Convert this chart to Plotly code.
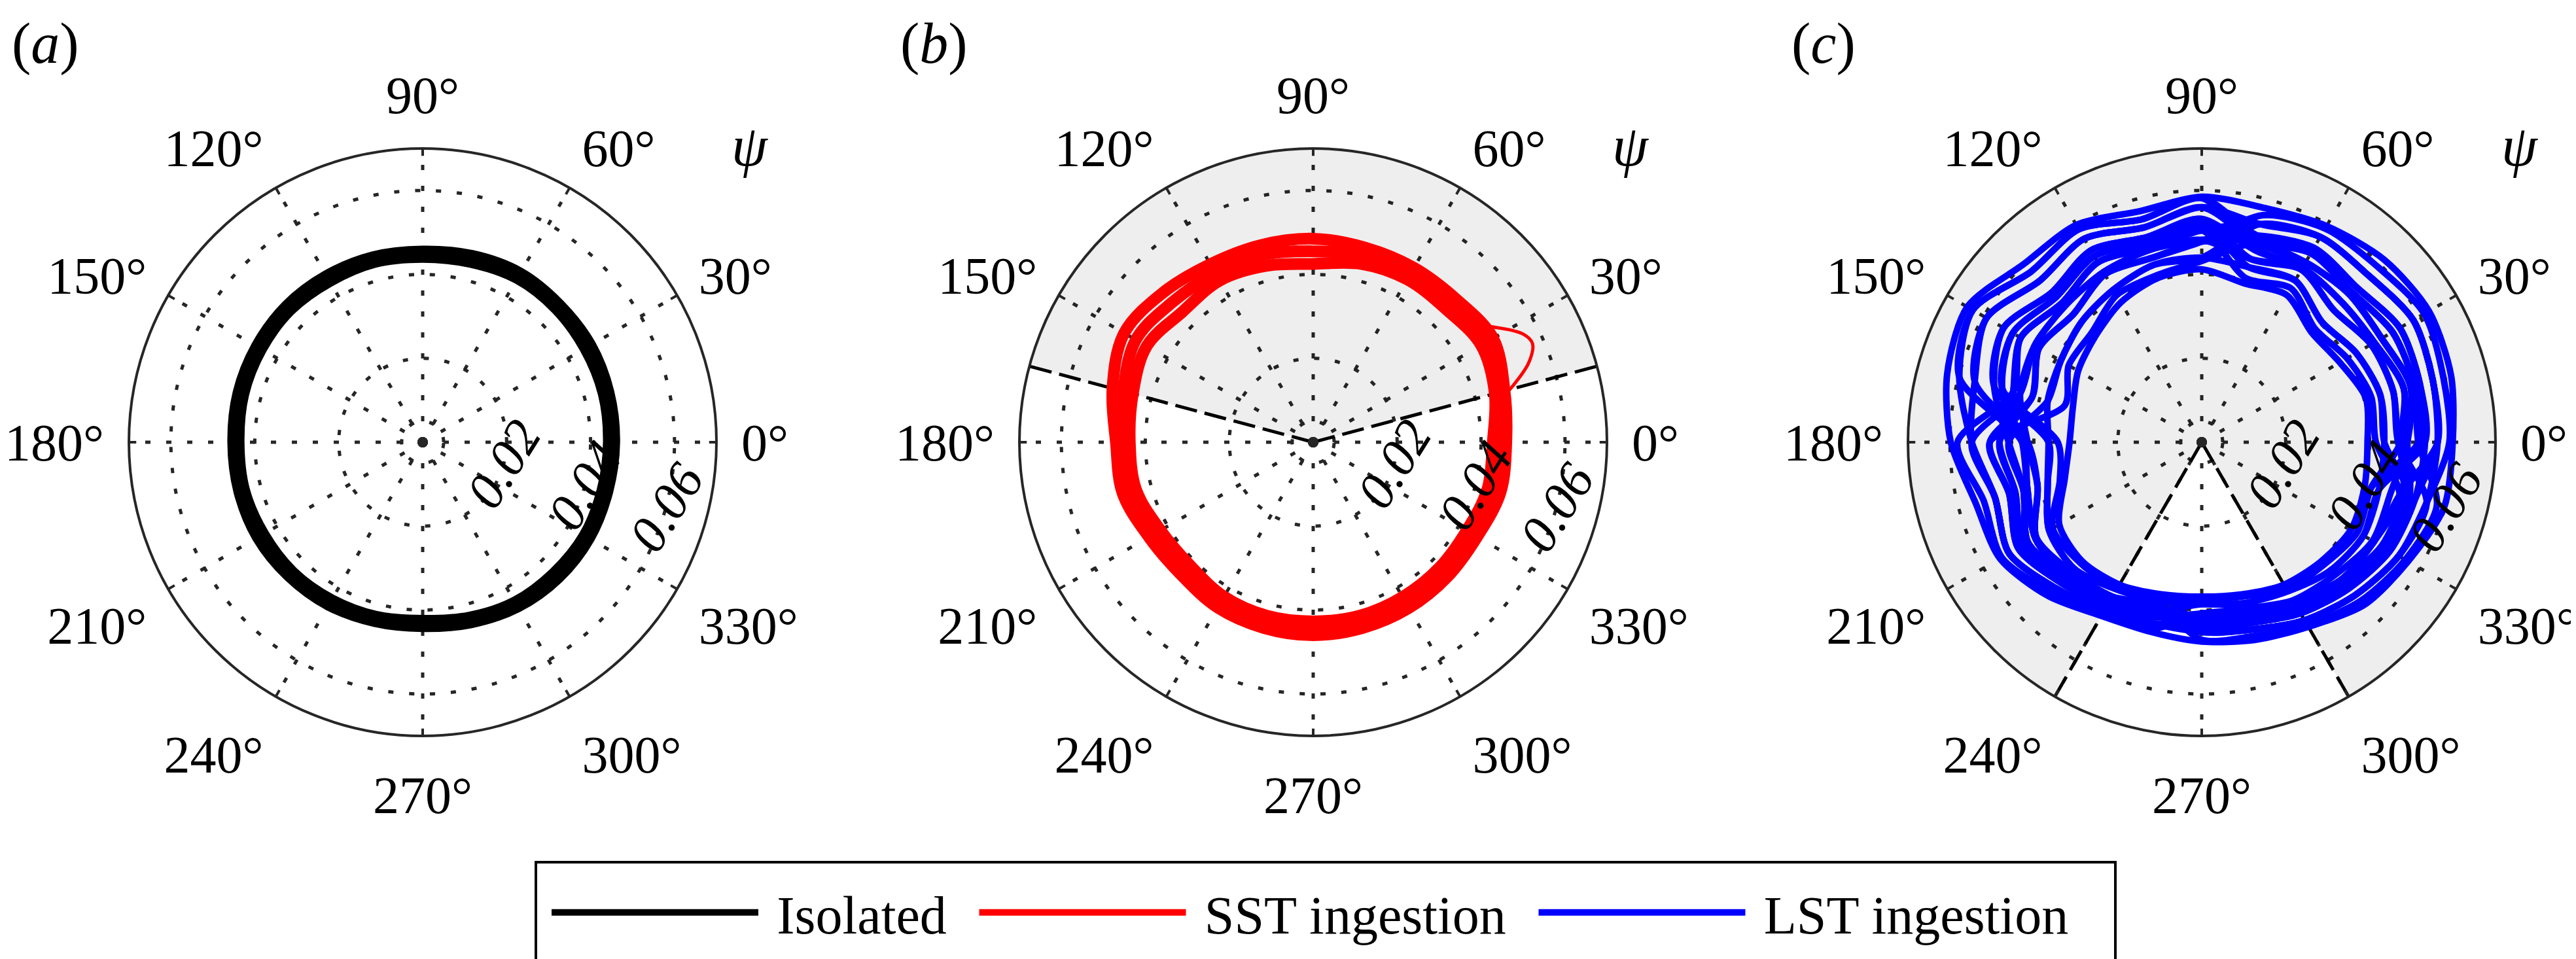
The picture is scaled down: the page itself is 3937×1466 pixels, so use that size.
import math
import plotly.graph_objects as go

W, H = 3937, 1466

# phase angle samples (deg) used by every loop below
theta = list(range(0, 360, 15))

# panel (a) isolated: two edges of the thick black band
isolated_loops = [
    [0.0442, 0.0445, 0.0446, 0.0449, 0.0450, 0.0443, 0.0440, 0.0443, 0.0442, 0.0445, 0.0443, 0.0441,
     0.0437, 0.0439, 0.0437, 0.0437, 0.0433, 0.0429, 0.0424, 0.0431, 0.0439, 0.0441, 0.0444, 0.0442],
    [0.0458, 0.0460, 0.0463, 0.0463, 0.0466, 0.0461, 0.0456, 0.0458, 0.0459, 0.0460, 0.0458, 0.0456,
     0.0453, 0.0454, 0.0455, 0.0452, 0.0449, 0.0443, 0.0440, 0.0446, 0.0454, 0.0458, 0.0459, 0.0457],
]

# panel (b) SST ingestion
sst_loops = [
    [0.0428, 0.0448, 0.0462, 0.0448, 0.0448, 0.0440, 0.0425, 0.0435, 0.0445, 0.0440, 0.0458, 0.0445,
     0.0437, 0.0437, 0.0420, 0.0415, 0.0425, 0.0428, 0.0427, 0.0428, 0.0426, 0.0424, 0.0422, 0.0430],
    [0.0444, 0.0458, 0.0480, 0.0465, 0.0465, 0.0460, 0.0455, 0.0462, 0.0466, 0.0473, 0.0488, 0.0468,
     0.0453, 0.0454, 0.0436, 0.0431, 0.0440, 0.0443, 0.0443, 0.0443, 0.0441, 0.0438, 0.0436, 0.0446],
    [0.0460, 0.0472, 0.0495, 0.0482, 0.0480, 0.0480, 0.0485, 0.0486, 0.0490, 0.0505, 0.0520, 0.0495,
     0.0470, 0.0470, 0.0452, 0.0446, 0.0455, 0.0458, 0.0460, 0.0458, 0.0456, 0.0453, 0.0451, 0.0462],
]
sst_excursion_theta = [33.4, 27.2, 24.2, 20.2, 15.4, 14.2]
sst_excursion_r = [0.0501, 0.0563, 0.0573, 0.0547, 0.0490, 0.0474]

# panel (c) LST ingestion: many wandering loops
lst_loops = [
    [0.0395, 0.0405, 0.0380, 0.0370, 0.0405, 0.0392, 0.0412, 0.0405, 0.0385, 0.0358, 0.0340, 0.0318,
     0.0315, 0.0338, 0.0392, 0.0402, 0.0392, 0.0375, 0.0368, 0.0375, 0.0392, 0.0402, 0.0412, 0.0402],
    [0.0435, 0.0440, 0.0425, 0.0405, 0.0445, 0.0432, 0.0518, 0.0494, 0.0512, 0.0490, 0.0520, 0.0492,
     0.0343, 0.0350, 0.0410, 0.0408, 0.0402, 0.0378, 0.0433, 0.0437, 0.0463, 0.0484, 0.0506, 0.0512],
    [0.0490, 0.0515, 0.0495, 0.0498, 0.0495, 0.0490, 0.0432, 0.0412, 0.0405, 0.0370, 0.0366, 0.0338,
     0.0505, 0.0475, 0.0505, 0.0474, 0.0452, 0.0432, 0.0408, 0.0410, 0.0435, 0.0448, 0.0470, 0.0466],
    [0.0532, 0.0538, 0.0545, 0.0522, 0.0535, 0.0510, 0.0582, 0.0550, 0.0586, 0.0575, 0.0630, 0.0598,
     0.0428, 0.0430, 0.0458, 0.0453, 0.0426, 0.0414, 0.0386, 0.0397, 0.0410, 0.0433, 0.0445, 0.0437],
    [0.0468, 0.0472, 0.0466, 0.0445, 0.0475, 0.0452, 0.0482, 0.0475, 0.0468, 0.0460, 0.0460, 0.0448,
     0.0548, 0.0510, 0.0530, 0.0492, 0.0465, 0.0448, 0.0433, 0.0437, 0.0463, 0.0484, 0.0506, 0.0512],
    [0.0562, 0.0570, 0.0582, 0.0562, 0.0565, 0.0538, 0.0440, 0.0438, 0.0420, 0.0405, 0.0388, 0.0380,
     0.0460, 0.0440, 0.0478, 0.0456, 0.0438, 0.0418, 0.0440, 0.0446, 0.0471, 0.0494, 0.0518, 0.0526],
    [0.0490, 0.0515, 0.0495, 0.0498, 0.0495, 0.0490, 0.0505, 0.0480, 0.0495, 0.0470, 0.0498, 0.0465,
     0.0460, 0.0440, 0.0478, 0.0456, 0.0438, 0.0418, 0.0424, 0.0428, 0.0453, 0.0470, 0.0495, 0.0497],
    [0.0516, 0.0524, 0.0525, 0.0506, 0.0520, 0.0496, 0.0560, 0.0530, 0.0560, 0.0545, 0.0592, 0.0560,
     0.0415, 0.0405, 0.0455, 0.0438, 0.0425, 0.0402, 0.0471, 0.0478, 0.0503, 0.0535, 0.0560, 0.0580],
    [0.0415, 0.0418, 0.0400, 0.0382, 0.0424, 0.0405, 0.0505, 0.0480, 0.0495, 0.0470, 0.0498, 0.0465,
     0.0582, 0.0538, 0.0550, 0.0506, 0.0476, 0.0460, 0.0410, 0.0422, 0.0437, 0.0466, 0.0474, 0.0488],
    [0.0590, 0.0596, 0.0612, 0.0592, 0.0588, 0.0560, 0.0478, 0.0455, 0.0462, 0.0432, 0.0448, 0.0418,
     0.0482, 0.0460, 0.0492, 0.0466, 0.0445, 0.0426, 0.0452, 0.0462, 0.0490, 0.0516, 0.0542, 0.0555],
    [0.0474, 0.0498, 0.0475, 0.0472, 0.0480, 0.0476, 0.0532, 0.0506, 0.0528, 0.0505, 0.0545, 0.0512,
     0.0365, 0.0380, 0.0420, 0.0428, 0.0405, 0.0392, 0.0378, 0.0380, 0.0405, 0.0412, 0.0428, 0.0418],
    [0.0562, 0.0570, 0.0582, 0.0562, 0.0565, 0.0538, 0.0560, 0.0530, 0.0560, 0.0545, 0.0592, 0.0560,
     0.0548, 0.0510, 0.0530, 0.0492, 0.0465, 0.0448, 0.0452, 0.0462, 0.0490, 0.0516, 0.0542, 0.0555],
    [0.0435, 0.0440, 0.0425, 0.0405, 0.0445, 0.0432, 0.0440, 0.0438, 0.0420, 0.0405, 0.0388, 0.0380,
     0.0365, 0.0380, 0.0420, 0.0428, 0.0405, 0.0392, 0.0386, 0.0397, 0.0410, 0.0433, 0.0445, 0.0437],
    [0.0598, 0.0615, 0.0625, 0.0615, 0.0595, 0.0578, 0.0585, 0.0570, 0.0598, 0.0600, 0.0645, 0.0628,
     0.0598, 0.0558, 0.0555, 0.0518, 0.0478, 0.0468, 0.0475, 0.0488, 0.0508, 0.0548, 0.0568, 0.0598],
    [0.0516, 0.0524, 0.0525, 0.0506, 0.0520, 0.0496, 0.0478, 0.0455, 0.0462, 0.0432, 0.0448, 0.0418,
     0.0505, 0.0475, 0.0505, 0.0474, 0.0452, 0.0432, 0.0378, 0.0380, 0.0405, 0.0412, 0.0428, 0.0418],
    [0.0468, 0.0472, 0.0466, 0.0445, 0.0475, 0.0452, 0.0532, 0.0506, 0.0528, 0.0505, 0.0545, 0.0512,
     0.0460, 0.0440, 0.0478, 0.0456, 0.0438, 0.0418, 0.0452, 0.0462, 0.0490, 0.0516, 0.0542, 0.0555],
    [0.0562, 0.0570, 0.0582, 0.0562, 0.0565, 0.0538, 0.0505, 0.0480, 0.0495, 0.0470, 0.0498, 0.0465,
     0.0482, 0.0460, 0.0492, 0.0466, 0.0445, 0.0426, 0.0410, 0.0422, 0.0437, 0.0466, 0.0474, 0.0488],
    [0.0474, 0.0498, 0.0475, 0.0472, 0.0480, 0.0476, 0.0582, 0.0550, 0.0586, 0.0575, 0.0630, 0.0598,
     0.0548, 0.0510, 0.0530, 0.0492, 0.0465, 0.0448, 0.0424, 0.0428, 0.0453, 0.0470, 0.0495, 0.0497],
    [0.0532, 0.0538, 0.0545, 0.0522, 0.0535, 0.0510, 0.0482, 0.0475, 0.0468, 0.0460, 0.0460, 0.0448,
     0.0415, 0.0405, 0.0455, 0.0438, 0.0425, 0.0402, 0.0440, 0.0446, 0.0471, 0.0494, 0.0518, 0.0526],
    [0.0490, 0.0515, 0.0495, 0.0498, 0.0495, 0.0490, 0.0518, 0.0494, 0.0512, 0.0490, 0.0520, 0.0492,
     0.0428, 0.0430, 0.0458, 0.0453, 0.0426, 0.0414, 0.0433, 0.0437, 0.0463, 0.0484, 0.0506, 0.0512],
]

angle_ticks = list(range(0, 360, 30))
angle_labels = [f"{a}°" for a in angle_ticks]
r_ticks = [0.005, 0.02, 0.04, 0.06]
r_labels = ["0.02", "0.04", "0.06"]
r_label_angle = -15
r_max = 0.07

# shaded sectors (centre, width) and their dashed edges, in degrees
sst_sector = (90, 150)
sst_edges = [165, 15]
lst_sector = (90, 300)
lst_edges = [240, 300]

panel_names = ["a", "b", "c"]
legend_names = ["Isolated", "SST ingestion", "LST ingestion"]
colors = ["black", "red", "blue"]

FONT = "Liberation Serif"
centers_x = [638, 1999, 3357]
cy, R = 668, 449

fig = go.Figure()


def closed(vals, first):
    return list(vals) + [first]


def add_loops(loops, color, width, sub, smooth=1.0):
    for loop in loops:
        fig.add_trace(go.Scatterpolar(
            r=closed(loop, loop[0]), theta=closed(theta, 360),
            mode="lines", line=dict(color=color, width=width, shape="spline", smoothing=smooth),
            showlegend=False, hoverinfo="skip", subplot=sub))


def add_sector(sector, edges, sub):
    fig.add_trace(go.Barpolar(
        r=[r_max], theta=[sector[0]], width=[sector[1]], base=0,
        marker=dict(color="rgba(0,0,0,0.068)", line=dict(width=0)),
        showlegend=False, hoverinfo="skip", subplot=sub))
    for e in edges:
        fig.add_trace(go.Scatterpolar(
            r=[0, r_max], theta=[e, e], mode="lines",
            line=dict(color="black", width=5, dash="34px,12px"),
            showlegend=False, hoverinfo="skip", subplot=sub))


add_loops(isolated_loops, "black", 16, "polar")

add_sector(sst_sector, sst_edges, "polar2")
add_loops(sst_loops, "red", 18, "polar2")
fig.add_trace(go.Scatterpolar(
    r=sst_excursion_r, theta=sst_excursion_theta, mode="lines",
    line=dict(color="red", width=5, shape="spline"),
    showlegend=False, hoverinfo="skip", subplot="polar2"))

add_sector(lst_sector, lst_edges, "polar3")
add_loops(lst_loops, "blue", 10, "polar3", smooth=0.8)

subs = ["polar", "polar2", "polar3"]
# short inward tick marks on the rim, and the centre dot
tick_r, tick_t = [], []
for a in angle_ticks:
    tick_r += [r_max * 0.975, r_max, None]
    tick_t += [a, a, None]
for sub in subs:
    fig.add_trace(go.Scatterpolar(
        r=tick_r, theta=tick_t, mode="lines", line=dict(color="#262626", width=4),
        showlegend=False, hoverinfo="skip", subplot=sub))
    fig.add_trace(go.Scatterpolar(
        r=[0], theta=[0], mode="markers", marker=dict(color="#262626", size=16),
        showlegend=False, hoverinfo="skip", subplot=sub))

# legend entries
for name, c in zip(legend_names, colors):
    fig.add_trace(go.Scatterpolar(
        r=[None], theta=[None], mode="lines",
        name="\u2009\u200a" + name + "\u2009\u2009\u200a",
        line=dict(color=c, width=13), subplot="polar"))

polar_common = dict(
    bgcolor="rgba(0,0,0,0)",
    radialaxis=dict(
        range=[0, r_max], tickmode="array", tickvals=r_ticks,
        showticklabels=False, showline=False, ticks="",
        gridcolor="#262626", gridwidth=5, griddash="8px,24px",
    ),
    angularaxis=dict(
        tickmode="array", tickvals=angle_ticks, ticktext=angle_labels,
        direction="counterclockwise", rotation=0,
        showline=True, linecolor="#262626", linewidth=4,
        ticks="outside", ticklen=20, tickcolor="rgba(0,0,0,0)",
        gridcolor="#262626", gridwidth=5, griddash="8px,24px",
        tickfont=dict(family=FONT, size=80, color="black"),
    ),
)

layout_polars = {}
for i, sub in enumerate(subs):
    cx = centers_x[i]
    dom = dict(x=[(cx - R) / W, (cx + R) / W], y=[(H - cy - R) / H, (H - cy + R) / H])
    layout_polars[sub] = dict(domain=dom, **polar_common)

annotations = []
for i, p in enumerate(panel_names):
    cx = centers_x[i]
    annotations.append(dict(
        x=[8, 1366, 2728][i] / W, y=1 - 59 / H, xref="paper", yref="paper",
        xanchor="left", yanchor="middle", text=f"(<i>{p}</i>)", showarrow=False,
        font=dict(family=FONT, size=88, color="black")))
    annotations.append(dict(
        x=[1138, 2484, 3843][i] / W, y=1 - 215 / H, xref="paper", yref="paper",
        xanchor="center", yanchor="middle", text="<i>ψ</i>", showarrow=False,
        font=dict(family=FONT, size=88, color="black")))
    # radial tick labels, written along the -15 deg ray like the original
    for rv, lab in zip(r_ticks[1:], r_labels):
        d = R * rv / r_max
        ang = math.radians(r_label_angle)
        annotations.append(dict(
            x=(cx + d * math.cos(ang)) / W, y=(H - cy + d * math.sin(ang)) / H,
            xref="paper", yref="paper", xanchor="center", yanchor="middle",
            text=f"<i>{lab}</i>", textangle=-58, showarrow=False,
            font=dict(family=FONT, size=80, color="black")))

fig.update_layout(
    width=W, height=H,
    margin=dict(l=0, r=0, t=0, b=0),
    paper_bgcolor="white",
    annotations=annotations,
    shapes=[dict(type="rect", xref="paper", yref="paper",
                 x0=811 / W, x1=3225 / W, y0=(H - 1463) / H, y1=(H - 1310) / H,
                 line=dict(color="black", width=4))],
    legend=dict(
        orientation="h", x=830 / W, y=(H - 1387) / H, xanchor="left", yanchor="middle",
        font=dict(family=FONT, size=82, color="black"),
        itemwidth=316, borderwidth=0, bgcolor="rgba(0,0,0,0)",
    ),
    **layout_polars,
)

fig.write_html("out.html")
